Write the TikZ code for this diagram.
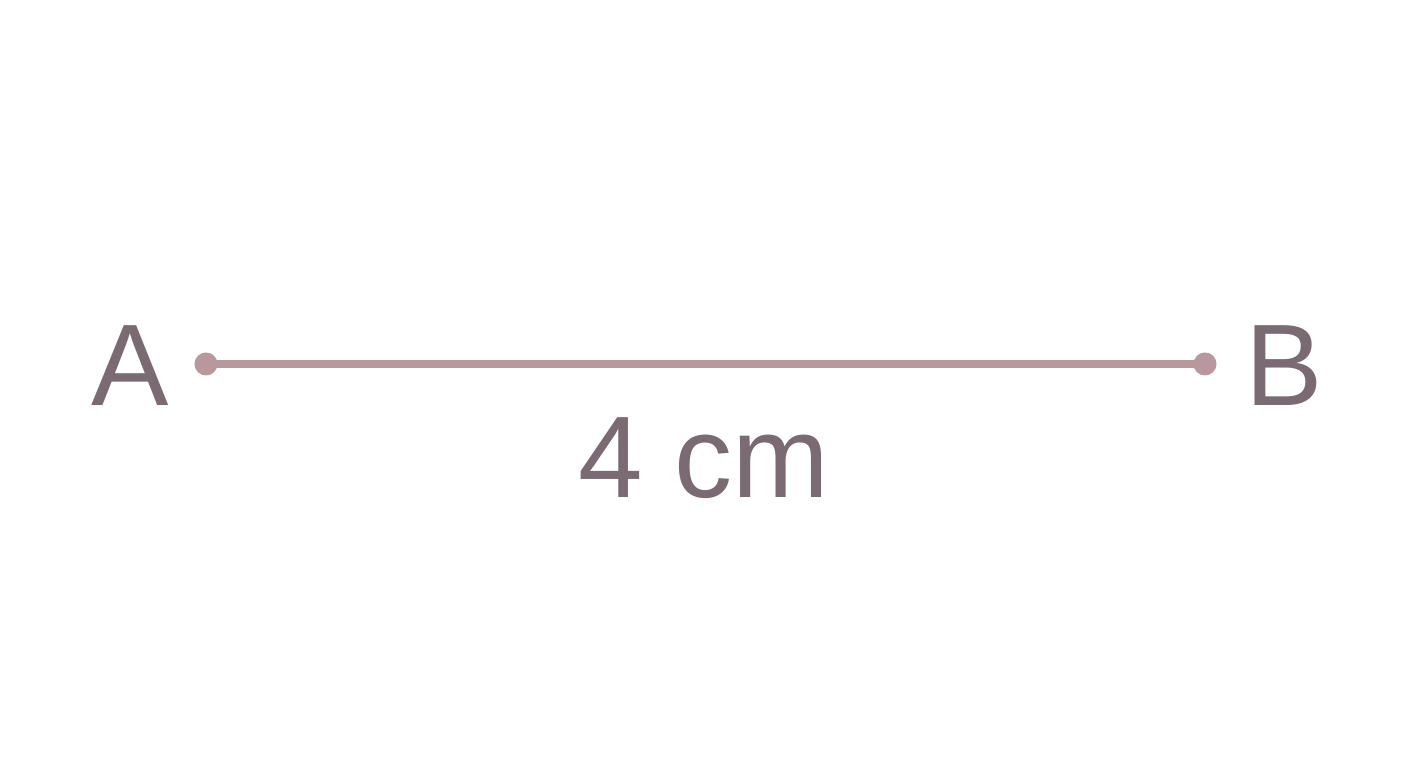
\documentclass[tikz,border=0pt]{standalone}
\usepackage{fontspec}
\setmainfont{Liberation Sans}
\definecolor{segline}{HTML}{B9989D}
\definecolor{labtext}{HTML}{7A6A72}
\begin{document}
\begin{tikzpicture}[x=0.01cm,y=-0.01cm,
  lab/.style={text=labtext,font=\fontsize{33}{40}\selectfont,inner sep=0pt,anchor=base},
  enddot/.style={circle,fill=segline,inner sep=0pt,minimum size=0.23cm}]
\useasboundingbox[fill=white] (0,0) rectangle (1408,768);
\node[enddot] (pa) at (206,364) {};
\node[enddot] (pb) at (1205,364) {};
\draw[segline,line width=0.08cm] (pa.center) -- (pb.center);
\node[lab] (la) at (130,406) {A};
\node[lab] (lb) at (1284,406) {B};
\node[lab] (len) at (704,498) {4 cm};
\end{tikzpicture}
\end{document}
